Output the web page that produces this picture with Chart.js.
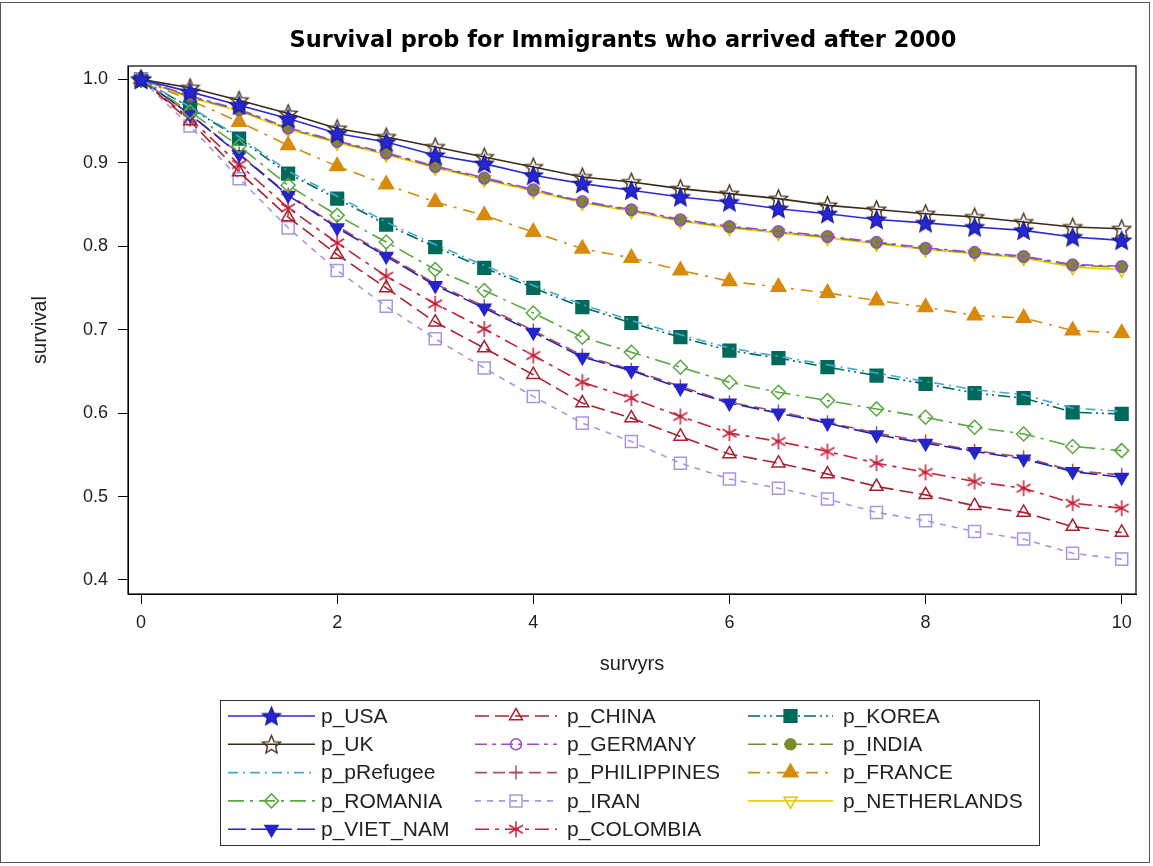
<!DOCTYPE html>
<html>
<head>
<meta charset="utf-8">
<script src="https://cdn.jsdelivr.net/npm/chart.js@4.4.1/dist/chart.umd.min.js"></script>
<style>
  html, body { margin: 0; padding: 0; background: #fff; }
  canvas { display: block; }
</style>
</head>
<body>
<canvas id="chart" width="1153" height="866"></canvas>
<script>
// Survival probability by years since arrival, one curve per country of origin
const survyrs = [0, 0.5, 1, 1.5, 2, 2.5, 3, 3.5, 4, 4.5, 5, 5.5, 6, 6.5, 7, 7.5, 8, 8.5, 9, 9.5, 10];

const p_USA         = [1.000, 0.985, 0.969, 0.953, 0.935, 0.925, 0.909, 0.899, 0.885, 0.875, 0.867, 0.859, 0.853, 0.845, 0.839, 0.832, 0.828, 0.823, 0.819, 0.811, 0.807];
const p_UK          = [1.000, 0.990, 0.975, 0.959, 0.941, 0.931, 0.919, 0.907, 0.895, 0.883, 0.877, 0.869, 0.863, 0.857, 0.849, 0.844, 0.839, 0.835, 0.829, 0.823, 0.821];
const p_pRefugee    = [1.000, 0.967, 0.931, 0.890, 0.860, 0.829, 0.802, 0.777, 0.753, 0.730, 0.711, 0.694, 0.678, 0.668, 0.658, 0.648, 0.638, 0.628, 0.622, 0.606, 0.602];
const p_ROMANIA     = [1.000, 0.961, 0.920, 0.873, 0.837, 0.805, 0.772, 0.747, 0.720, 0.691, 0.673, 0.655, 0.637, 0.625, 0.615, 0.605, 0.595, 0.583, 0.575, 0.560, 0.555];
const p_VIET_NAM    = [1.000, 0.958, 0.910, 0.861, 0.822, 0.788, 0.753, 0.726, 0.697, 0.667, 0.651, 0.630, 0.612, 0.600, 0.588, 0.574, 0.564, 0.554, 0.545, 0.530, 0.523];
const p_CHINA       = [1.000, 0.950, 0.889, 0.835, 0.790, 0.750, 0.709, 0.678, 0.646, 0.612, 0.594, 0.572, 0.551, 0.540, 0.527, 0.512, 0.502, 0.489, 0.481, 0.464, 0.457];
const p_GERMANY     = [1.000, 0.980, 0.964, 0.942, 0.926, 0.912, 0.896, 0.882, 0.868, 0.854, 0.844, 0.832, 0.824, 0.818, 0.812, 0.805, 0.798, 0.793, 0.788, 0.778, 0.776];
const p_PHILIPPINES = [1.000, 0.958, 0.911, 0.862, 0.824, 0.790, 0.755, 0.728, 0.699, 0.669, 0.652, 0.632, 0.613, 0.602, 0.589, 0.576, 0.566, 0.555, 0.547, 0.531, 0.526];
const p_IRAN        = [1.000, 0.944, 0.881, 0.822, 0.771, 0.728, 0.689, 0.654, 0.620, 0.588, 0.566, 0.540, 0.521, 0.510, 0.497, 0.481, 0.471, 0.458, 0.449, 0.432, 0.425];
const p_COLOMBIA    = [1.000, 0.953, 0.898, 0.846, 0.804, 0.764, 0.731, 0.701, 0.669, 0.637, 0.618, 0.596, 0.576, 0.566, 0.554, 0.540, 0.529, 0.518, 0.510, 0.492, 0.486];
const p_KOREA       = [1.000, 0.966, 0.929, 0.887, 0.857, 0.826, 0.799, 0.774, 0.750, 0.727, 0.708, 0.691, 0.675, 0.666, 0.655, 0.645, 0.635, 0.624, 0.618, 0.601, 0.599];
const p_INDIA       = [1.000, 0.979, 0.963, 0.941, 0.925, 0.911, 0.895, 0.881, 0.867, 0.853, 0.843, 0.831, 0.823, 0.817, 0.811, 0.804, 0.797, 0.792, 0.787, 0.777, 0.775];
const p_FRANCE      = [1.000, 0.975, 0.949, 0.921, 0.896, 0.874, 0.853, 0.837, 0.817, 0.797, 0.786, 0.771, 0.758, 0.751, 0.744, 0.735, 0.727, 0.717, 0.714, 0.699, 0.696];
const p_NETHERLANDS = [1.000, 0.978, 0.962, 0.940, 0.924, 0.910, 0.894, 0.880, 0.866, 0.852, 0.842, 0.830, 0.822, 0.816, 0.810, 0.803, 0.796, 0.791, 0.786, 0.775, 0.772];

const seriesNames = ['p_USA', 'p_UK', 'p_pRefugee', 'p_ROMANIA', 'p_VIET_NAM',
                     'p_CHINA', 'p_GERMANY', 'p_PHILIPPINES', 'p_IRAN', 'p_COLOMBIA',
                     'p_KOREA', 'p_INDIA', 'p_FRANCE', 'p_NETHERLANDS'];
const seriesValues = [p_USA, p_UK, p_pRefugee, p_ROMANIA, p_VIET_NAM,
                      p_CHINA, p_GERMANY, p_PHILIPPINES, p_IRAN, p_COLOMBIA,
                      p_KOREA, p_INDIA, p_FRANCE, p_NETHERLANDS];

const yTickValues = [0.4, 0.5, 0.6, 0.7, 0.8, 0.9, 1.0];
const xTickValues = [0, 2, 4, 6, 8, 10];

const TITLE = 'Survival prob for Immigrants who arrived after 2000';
const X_TITLE = 'survyrs';
const Y_TITLE = 'survival';

// ---- custom marker shapes -------------------------------------------------
function starMarker(fill, stroke, R) {
  const s = Math.ceil(R * 2 + 4);
  const c = document.createElement('canvas');
  c.width = s; c.height = s;
  const g = c.getContext('2d');
  const cx = s / 2, cy = s / 2 + 0.8, r = R * 0.45;
  g.beginPath();
  for (let i = 0; i < 10; i++) {
    const a = -Math.PI / 2 + i * Math.PI / 5;
    const rr = (i % 2) ? r : R;
    g.lineTo(cx + rr * Math.cos(a), cy + rr * Math.sin(a));
  }
  g.closePath();
  if (fill) { g.fillStyle = fill; g.fill(); }
  if (stroke) { g.strokeStyle = stroke; g.lineWidth = 1.4; g.lineJoin = 'miter'; g.stroke(); }
  return c;
}

function asteriskMarker(color, R) {
  const s = Math.ceil(R * 2 + 4);
  const c = document.createElement('canvas');
  c.width = s; c.height = s;
  const g = c.getContext('2d');
  const cx = s / 2, cy = s / 2;
  g.strokeStyle = color; g.lineWidth = 1.5;
  g.beginPath();
  [90, 30, 150].forEach(deg => {
    const a = deg * Math.PI / 180;
    g.moveTo(cx - R * Math.cos(a), cy - R * Math.sin(a));
    g.lineTo(cx + R * Math.cos(a), cy + R * Math.sin(a));
  });
  g.stroke();
  return c;
}

const NONE = 'rgba(0,0,0,0)';

// line colour, dash, marker style, marker fill, marker stroke, radius, rotation
const styles = {
  p_USA:         { color: '#2b2bd0', dash: [],               point: starMarker('#2626d8', '#1d1d9a', 9.5), r: 9.5 },
  p_UK:          { color: '#3a2a18', dash: [],               point: starMarker(null, '#4a3518', 9.5), r: 9.5 },
  p_pRefugee:    { color: '#45a8d8', dash: [10, 5, 2, 5],    point: false, r: 0 },
  p_ROMANIA:     { color: '#58a840', dash: [16, 6, 3, 6],    point: 'rectRot', fill: NONE, stroke: '#58a840', r: 7 },
  p_VIET_NAM:    { color: '#2424b8', dash: [18, 5],          point: 'triangle', rot: 180, fill: '#2424c8', stroke: '#2424c8', r: 7.5 },
  p_CHINA:       { color: '#a8202e', dash: [14, 6],          point: 'triangle', fill: NONE, stroke: '#a8202e', r: 7.5 },
  p_GERMANY:     { color: '#9a48d0', dash: [12, 5, 4, 5],    point: 'circle', fill: NONE, stroke: '#9a48d0', r: 5.5 },
  p_PHILIPPINES: { color: '#b0505c', dash: [12, 6],          point: 'cross', fill: NONE, stroke: '#b0505c', r: 7 },
  p_IRAN:        { color: '#a896e2', dash: [6, 6],           point: 'rect', fill: NONE, stroke: '#a896e2', r: 8.5 },
  p_COLOMBIA:    { color: '#c4203a', dash: [14, 6, 4, 6],    point: asteriskMarker('#c4203a', 8), r: 8 },
  p_KOREA:       { color: '#006a5a', dash: [12, 4, 2, 4, 2, 4], point: 'rect', fill: '#006a5a', stroke: '#006a5a', r: 9 },
  p_INDIA:       { color: '#7a8c2a', dash: [18, 6, 6, 6],    point: 'circle', fill: '#7a8c2a', stroke: '#7a8c2a', r: 5.5 },
  p_FRANCE:      { color: '#d98a0c', dash: [12, 7, 3, 7],    point: 'triangle', fill: '#d98a0c', stroke: '#d98a0c', r: 8.5 },
  p_NETHERLANDS: { color: '#e8d400', dash: [],               point: 'triangle', rot: 180, fill: NONE, stroke: '#e0c800', r: 7.5 }
};

const datasets = seriesNames.map((name, i) => {
  const st = styles[name];
  return {
    label: name,
    data: survyrs.map((x, k) => ({ x: x, y: seriesValues[i][k] })),
    borderColor: st.color,
    borderWidth: 1.6,
    borderDash: st.dash,
    tension: 0,
    fill: false,
    pointStyle: st.point,
    pointRotation: st.rot || 0,
    pointRadius: st.point === false ? 0 : st.r,
    pointBackgroundColor: st.fill || NONE,
    pointBorderColor: st.stroke || st.color,
    pointBorderWidth: 1.5
  };
});

// ---- frame, titles and legend panel ---------------------------------------
const FONT = '"Liberation Sans", Arial, sans-serif';

const decorations = {
  id: 'decorations',
  beforeDraw(chart) {
    const ctx = chart.ctx;
    ctx.save();
    ctx.fillStyle = '#fff';
    ctx.fillRect(0, 0, chart.width, chart.height);
    ctx.restore();
  },
  afterDraw(chart) {
    const ctx = chart.ctx;
    const a = chart.chartArea;
    ctx.save();

    // outer page frame
    ctx.strokeStyle = '#555';
    ctx.lineWidth = 1;
    ctx.strokeRect(0.5, 2.5, 1149, 860);

    // plot frame
    ctx.strokeStyle = '#000';
    ctx.lineWidth = 1.2;
    ctx.strokeRect(a.left, a.top, a.right - a.left, a.bottom - a.top);

    // title
    ctx.fillStyle = '#000';
    ctx.font = 'bold 22.5px "DejaVu Sans", Verdana, sans-serif';
    ctx.textAlign = 'center';
    ctx.textBaseline = 'middle';
    ctx.fillText(TITLE, 623, 41);

    // axis titles
    ctx.font = '20px ' + FONT;
    ctx.fillStyle = '#222';
    ctx.fillText(X_TITLE, (a.left + a.right) / 2, 664);
    ctx.save();
    ctx.translate(40, (a.top + a.bottom) / 2);
    ctx.rotate(-Math.PI / 2);
    ctx.fillText(Y_TITLE, 0, 0);
    ctx.restore();

    // legend panel
    ctx.strokeStyle = '#333';
    ctx.lineWidth = 1;
    ctx.strokeRect(220.5, 700.5, 819, 145);

    const cols = [
      { x0: 228, x1: 315, tx: 321 },
      { x0: 475, x1: 557, tx: 567 },
      { x0: 748, x1: 833, tx: 843 }
    ];
    ctx.font = '21px ' + FONT;
    ctx.textAlign = 'left';
    chart.data.datasets.forEach((ds, i) => {
      const col = cols[Math.floor(i / 5)];
      const y = 716 + (i % 5) * 28.3;
      ctx.save();
      ctx.strokeStyle = ds.borderColor;
      ctx.lineWidth = 1.6;
      ctx.setLineDash(ds.borderDash.length ? ds.borderDash : []);
      ctx.beginPath();
      ctx.moveTo(col.x0, y);
      ctx.lineTo(col.x1, y);
      ctx.stroke();
      ctx.setLineDash([]);
      if (ds.pointStyle !== false) {
        const cx = (col.x0 + col.x1) / 2;
        ctx.fillStyle = ds.pointBackgroundColor;
        ctx.strokeStyle = ds.pointBorderColor;
        ctx.lineWidth = ds.pointBorderWidth;
        Chart.helpers.drawPoint(ctx, {
          pointStyle: ds.pointStyle,
          rotation: ds.pointRotation,
          radius: ds.pointRadius,
          borderWidth: ds.pointBorderWidth
        }, cx, y);
      }
      ctx.restore();
      ctx.fillStyle = '#222';
      ctx.textBaseline = 'middle';
      ctx.fillText(ds.label, col.tx, y + 1);
    });

    ctx.restore();
  }
};

new Chart(document.getElementById('chart'), {
  type: 'line',
  data: { datasets: datasets },
  plugins: [decorations],
  options: {
    responsive: false,
    animation: false,
    events: [],
    layout: { padding: { top: 66, right: 17, bottom: 0, left: 0 } },
    plugins: {
      legend: { display: false },
      title: { display: false },
      tooltip: { enabled: false }
    },
    scales: {
      x: {
        type: 'linear',
        min: -0.133,
        max: 10.146,
        afterBuildTicks: s => { s.ticks = xTickValues.map(v => ({ value: v })); },
        afterFit: s => { s.height = 272; },
        grid: { display: true, drawOnChartArea: false, drawTicks: true, tickLength: 10, color: '#000', lineWidth: 1 },
        border: { display: true, color: '#000', width: 1 },
        ticks: {
          padding: 8,
          color: '#222',
          font: { family: FONT, size: 18 },
          maxRotation: 0,
          callback: v => String(v)
        }
      },
      y: {
        type: 'linear',
        min: 0.3832,
        max: 1.016,
        afterBuildTicks: s => { s.ticks = yTickValues.map(v => ({ value: v })); },
        afterFit: s => { s.width = 128; },
        grid: { display: true, drawOnChartArea: false, drawTicks: true, tickLength: 10, color: '#000', lineWidth: 1 },
        border: { display: true, color: '#000', width: 1 },
        ticks: {
          padding: 10,
          color: '#222',
          font: { family: FONT, size: 18 },
          callback: v => Number(v).toFixed(1)
        }
      }
    }
  }
});
</script>
</body>
</html>
